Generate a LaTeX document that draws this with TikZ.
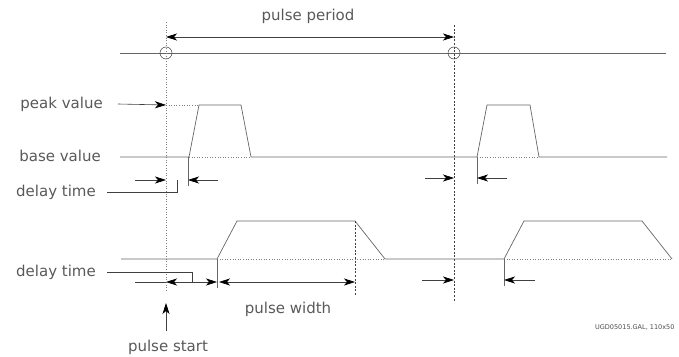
\documentclass[tikz,border=0pt]{standalone}
\usepackage{fontspec}
\setmainfont{DejaVu Sans}
\usetikzlibrary{arrows.meta}

\tikzset{
	wave/.style={black!60, line width=0.7pt},
	guide/.style={black!50, dotted, line width=0.6pt},
	cutline/.style={black!75, dash pattern=on 2pt off 1.6pt, line width=0.5pt},
	dimline/.style={black!75, line width=0.6pt},
	ptr/.style={-{Stealth[length=11pt,width=7pt,inset=3pt,black]}},
	ptrs/.style={{Stealth[length=11pt,width=7pt,inset=3pt,black]}-{Stealth[length=11pt,width=7pt,inset=3pt,black]}},
	lbl/.style={text=black!65, font=\fontsize{15}{16}\selectfont, inner sep=1pt},
}

\begin{document}
\begin{tikzpicture}[x=1pt,y=-1pt]
		\useasboundingbox (0,0) rectangle (679,356);
		% trigger line with the two pulse starts
		\draw[wave] (120,53) -- (666,53);
		\foreach \x in {166,454}
		\draw[black!75, line width=0.5pt] (\x,53) circle (6pt);
		\draw[guide] (166,22) -- (166,292);
		\draw[cutline] (454,25) -- (454,302);
		\node[lbl] (period) at (308,16) {pulse period};
		\draw[dimline, ptrs] (166,37) -- (454,37);
		% upper waveform
		\draw[wave] (120,157) -- (189,157) -- (199,105) -- (241,105) -- (251,157)
			-- (477,157) -- (487,105) -- (530,105) -- (539,157) -- (667,157);
		\draw[guide] (166,105) -- (199,105);
		\draw[guide] (189,157) -- (251,157);
		\draw[guide] (477,157) -- (539,157);
		\draw[wave] (188,157) -- (188,186);
		\draw[wave] (477,157) -- (477,184);
		\node[lbl, anchor=east] (peak) at (104,104) {peak value};
		\draw[dimline, ptr] ([xshift=14pt]peak.east) -- (166,105);
		\node[lbl, anchor=east] (base) at (102,156) {base value};
		\node[lbl, anchor=east] (delay1) at (97,192) {delay time};
		\draw[dimline] ([xshift=10pt]delay1.east) -| (177,180);
		\draw[dimline, ptr] (135,180) -- (166,180);
		\draw[dimline, ptr] (218,180) -- (188,180);
		\draw[dimline, ptr] (425,178) -- (454,178);
		\draw[dimline, ptr] (507,178) -- (477,178);
		% lower waveform
		\draw[wave] (121,259) -- (217,259) -- (237,221) -- (355,221) -- (385,259)
			-- (504,259) -- (524,221) -- (642,221) -- (672,259);
		\draw[guide] (217,259) -- (385,259);
		\draw[guide] (504,259) -- (672,259);
		\draw[wave] (217,259) -- (217,288);
		\draw[cutline] (355,221) -- (355,295);
		\draw[wave] (504,259) -- (504,286);
		\node[lbl, anchor=east] (delay2) at (97,272) {delay time};
		\draw[dimline] ([xshift=10pt]delay2.east) -| (192,282);
		\draw[dimline] (135,282) -- (166,282);
		\draw[dimline, ptrs] (166,282) -- (217,282);
		\draw[dimline, ptrs] (219,282) -- (355,282);
		\node[lbl] (width) at (288,309) {pulse width};
		\draw[dimline, ptr] (422,280) -- (454,280);
		\draw[dimline, ptr] (535,280) -- (504,280);
		% start marker
		\coordinate (tip) at (166,303);
		\node[lbl, anchor=south] (start) at (168,356) {pulse start};
		\draw[dimline, ptr] ([yshift=8pt]start.north -| tip) -- (tip);
		\node[text=black!70, font=\fontsize{6.5}{7}\selectfont, anchor=east] (ref) at (678,327) {UGD05015.GAL, 110x50};
\end{tikzpicture}
\end{document}
